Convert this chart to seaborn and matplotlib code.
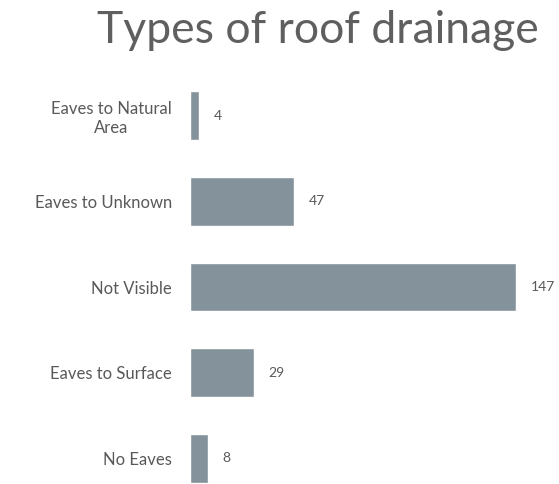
import pandas as pd
import numpy as np
import matplotlib
matplotlib.use('Agg')
import matplotlib.pyplot as plt
import seaborn as sns

# данные с картинки
categories = ['Eaves to Natural\nArea', 'Eaves to Unknown', 'Not Visible', 'Eaves to Surface', 'No Eaves']
counts = [4, 47, 147, 29, 8]

df = pd.DataFrame({'type': categories, 'count': counts})

sns.set_style('white')
plt.rcParams['font.family'] = ['Lato', 'DejaVu Sans']

bar_color = '#84939b'
text_color = '#595959'

fig = plt.figure(figsize=(5.59, 4.84), dpi=100)
ax = fig.add_axes([190 / 559, 0.0, 355 / 559, 411 / 484])

sns.barplot(data=df, x='count', y='type', color=bar_color, width=0.57,
            saturation=1, orient='h', ax=ax)

ax.set_xlim(0, 160)
ax.set_ylim(4.3, -0.5)

# подписи значений
for i, v in enumerate(counts):
    ax.text(v + 6.5, i, str(v), va='center', ha='left', fontsize=10, color=text_color)

ax.set_xlabel('')
ax.set_ylabel('')
ax.set_xticks([])
ax.tick_params(axis='y', length=0, pad=13, labelsize=12, labelcolor=text_color)
for lbl in ax.get_yticklabels():
    lbl.set_horizontalalignment('right')
    lbl.set_multialignment('center')
sns.despine(ax=ax, left=True, bottom=True)

fig.text(318 / 559, 1 - 43 / 484, 'Types of roof drainage', ha='center', va='baseline',
         fontsize=32, color='#5f5f5f')

fig.savefig('out.png', dpi=100)
